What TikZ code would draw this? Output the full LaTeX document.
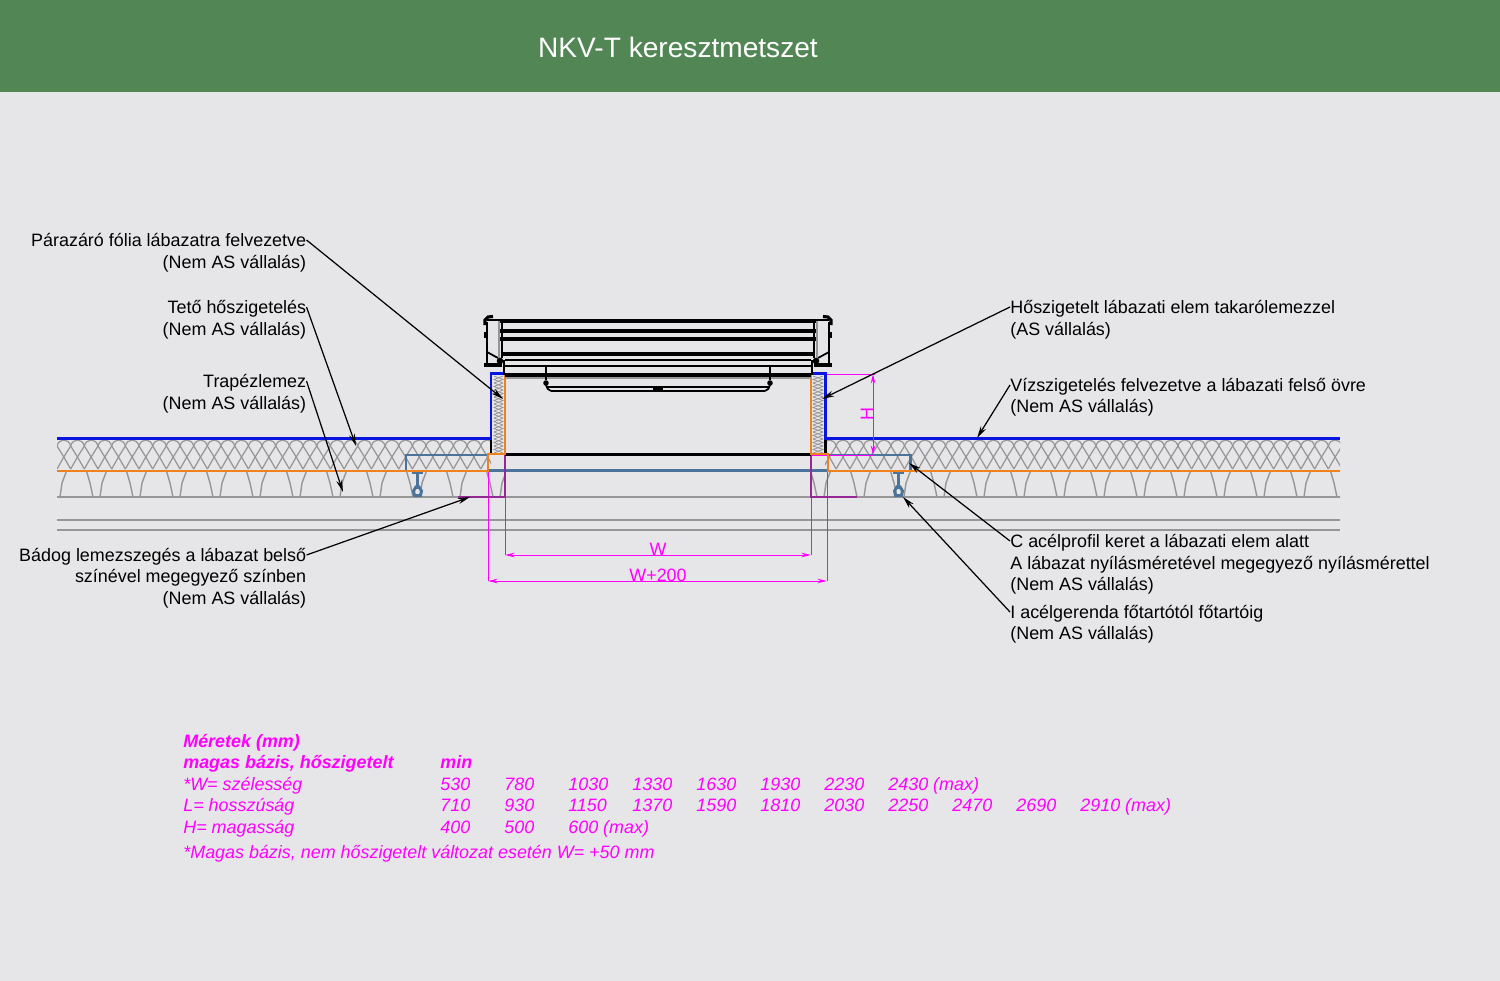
\documentclass[tikz,border=0pt]{standalone}
\usepackage{fontspec}
\setmainfont{Liberation Sans}
\usetikzlibrary{arrows.meta}
\definecolor{headgreen}{RGB}{82,134,84}
\definecolor{paper}{RGB}{230,230,232}
\definecolor{steelblue}{RGB}{75,115,155}
\definecolor{rockgray}{RGB}{150,150,150}
\definecolor{foilorange}{RGB}{240,130,30}
\definecolor{sealblue}{RGB}{10,20,225}
\definecolor{dimpink}{RGB}{255,0,255}
\definecolor{dimpurple}{RGB}{150,40,150}
\tikzset{
  lblr/.style={anchor=east,inner sep=0pt,font=\fontsize{10.2pt}{12pt}\selectfont,text height=8pt,text depth=0.8pt},
  lbll/.style={lblr,anchor=west},
  leader/.style={black,line width=0.7pt,-{Stealth[length=7pt,width=3.4pt]}},
  dimline/.style={dimpink,line width=0.55pt},
  dimarrow/.style={dimline,{Stealth[length=5.5pt,width=2.6pt]}-{Stealth[length=5.5pt,width=2.6pt]}},
  dimtext/.style={inner sep=0pt,text=dimpink,font=\fontsize{10.2pt}{12pt}\selectfont},
  tabtext/.style={anchor=base west,inner sep=0pt,text=dimpink,font=\fontsize{10.2pt}{12pt}\selectfont\itshape},
  tabbold/.style={tabtext,font=\fontsize{10.2pt}{12pt}\selectfont\itshape\bfseries},
  rock/.style={rockgray,line width=0.7pt},
  thickrail/.style={black,line width=1.8pt},
  thinrail/.style={black,line width=1pt},
  beam/.style={steelblue,line width=1.7pt},
}
\begin{document}
\begin{tikzpicture}[x=0.02cm,y=-0.02cm]
  \useasboundingbox (0,0) rectangle (1500,980);
  % background and header
  \fill[paper] (-5,-5) rectangle (1505,985);
  \fill[headgreen] (-5,-5) rectangle (1505,92);
  \node[inner sep=0pt,text=white,font=\fontsize{16pt}{18pt}\selectfont] (title) at (678,47.5) {NKV-T keresztmetszet};

  % roof insulation, left and right of the curb
  \begin{scope}
    \clip (57,438) rectangle (491,471) (825,438) rectangle (1340,471);
    \foreach \i in {0,...,96} {
      \pgfmathsetmacro{\xa}{57+13.67*\i}
      \draw[rock] (\xa,446) -- (\xa+6.8,457) -- (\xa+13.67,469);
      \draw[rock] (\xa+13.67,446) -- (\xa+6.8,457) -- (\xa,469);
      \draw[rock] (\xa,446) .. controls (\xa+2,438) and (\xa+11.67,438) .. (\xa+13.67,446);
    }
  \end{scope}

  % trapezoid sheet
  \def\trapez#1{
    \draw[rock,line width=0.8pt] (#1-6.5,471) -- (#1-3,483) -- (#1,497) -- (#1+7,497) -- (#1+9,483) -- (#1+13.5,471);
  }
  \begin{scope}
    \clip (57,471) rectangle (505,498) (811,471) rectangle (1340,498);
    \foreach \i in {0,...,11} {\trapez{53+40*\i}}
    \foreach \i in {0,...,13} {\trapez{817+40*\i}}
  \end{scope}
  \draw[rockgray,line width=0.8pt] (57,497) -- (1340,497);
  \draw[rockgray,line width=0.8pt] (57,520) -- (1340,520);
  \draw[rockgray,line width=0.8pt] (57,530) -- (1340,530);

  % curb insulation
  \foreach \i in {0,...,10} {
    \pgfmathsetmacro{\ya}{376+7*\i}
    \draw[rockgray,line width=0.45pt] (494,\ya) -- (503,\ya+3.5) -- (494,\ya+7);
    \draw[rockgray,line width=0.45pt] (503,\ya) -- (494,\ya+3.5) -- (503,\ya+7);
    \draw[rockgray,line width=0.45pt] (813,\ya) -- (823,\ya+3.5) -- (813,\ya+7);
    \draw[rockgray,line width=0.45pt] (823,\ya) -- (813,\ya+3.5) -- (823,\ya+7);
  }

  % steel frame and beams
  \draw[beam] (488,455) -- (406,455) -- (406,470.5);
  \draw[beam] (828,455) -- (910,455) -- (910,470.5);
  \draw[beam] (488,470.5) -- (828,470.5);
  \foreach \bx in {417.5,898.5} {
    \draw[beam] (\bx-5.5,473) -- (\bx+5.5,473);
    \draw[beam] (\bx,473) -- (\bx,489);
    \draw[beam] (\bx-1,486) -- (\bx-4,491) -- (\bx-3,495.5) -- (\bx+3,495.5) -- (\bx+4,491) -- (\bx+1,486);
  }

  % magenta dimension construction
  \draw[dimline] (488,471) -- (488,581);
  \draw[dimline] (505,497) -- (505,555);
  \draw[dimline] (811,497) -- (811,555);
  \draw[dimline] (827,471) -- (827,581);
  \draw[dimpurple,line width=0.6pt] (505,455) -- (505,497) -- (458,497);
  \draw[dimpurple,line width=0.6pt] (811,455) -- (811,497) -- (857,497);
  \draw[dimline] (812,374) -- (875,374);
  \draw[dimline] (800,455) -- (873,455);

  % curb
  \draw[black,line width=1.3pt] (491,438) -- (491,455);
  \draw[black,line width=1.3pt] (825.5,438) -- (825.5,455);
  \draw[black,line width=1.7pt] (505,454.5) -- (811,454.5);
  \draw[sealblue,line width=1.2pt] (57,438.5) -- (491,438.5) -- (491,373.5) -- (505,373.5);
  \draw[sealblue,line width=1.2pt] (1340,438.5) -- (825.5,438.5) -- (825.5,373.5) -- (811,373.5);
  \draw[foilorange,line width=1pt] (505,374) -- (505,454) -- (488,454) -- (488,471) -- (57,471);
  \draw[foilorange,line width=1pt] (811,374) -- (811,454) -- (828,454) -- (828,471) -- (1340,471);

  % skylight rails
  \draw[thickrail] (500,321) -- (816,321);
  \draw[thickrail] (500,331) -- (816,331);
  \draw[thickrail] (500,339) -- (816,339);
  \draw[thickrail] (502,354) -- (814,354);
  \draw[thinrail] (505,360) -- (811,360);
  \draw[thinrail] (503,366) -- (813,366);
  \draw[thickrail] (505,375) -- (811,375);
  \draw[rockgray,line width=0.8pt] (505,378) -- (811,378);
  \def\skyend{
    \draw[thinrail] (504,360) -- (504,375);
    \draw[thinrail] (487,322) -- (487,365);
    \draw[thickrail] (484,365) -- (502,365);
    \draw[thinrail] (487,320) -- (500,320);
    \draw[thickrail] (485,325) -- (485,320) -- (488,317) -- (493,316.5);
    \draw[thickrail] (485.5,332) -- (485.5,338);
    \draw[thinrail] (487,352) -- (498,358);
    \draw[rockgray,line width=0.8pt] (499,321) -- (499,358);
    \draw[black,line width=0.9pt] (502,321) -- (502,358);
    \fill[black] (500,361) circle (3.3);
    \draw[thinrail] (546,366) -- (546,380);
    \fill[black] (546,383) circle (2.8);
    \draw[thinrail] (546,385) .. controls (546.5,388) and (548,390) .. (551,391);
  }
  \skyend
  \begin{scope}[shift={(1316,0)},xscale=-1]
    \skyend
  \end{scope}
  \draw[thinrail] (547,387) -- (769,387);
  \draw[thinrail] (551,391) -- (765,391);
  \fill[black] (653,387.5) rectangle (663,391.5);
  \fill[black] (656,385.5) rectangle (660,388);

  % dimensions
  \coordinate (wleft) at (505,555);
  \coordinate (wright) at (811,555);
  \coordinate (wwleft) at (488,581);
  \coordinate (wwright) at (827,581);
  \coordinate (htop) at (873,374);
  \coordinate (hbot) at (873,455);
  \draw[dimarrow] (wleft) -- (wright);
  \draw[dimarrow] (wwleft) -- (wwright);
  \draw[dimarrow] (htop) -- (hbot);
  \node[dimtext] (wlabel) at (658,549.5) {W};
  \node[dimtext] (wwlabel) at (658,575.5) {W+200};
  \node[dimtext,rotate=90] (hlabel) at (867,414) {H};

  % left labels
  \node[lblr] (para) at (306.5,240) {Párazáró fólia lábazatra felvezetve};
  \node[lblr] (parab) at (306.5,262) {(Nem AS vállalás)};
  \node[lblr] (teto) at (306.5,307) {Tető hőszigetelés};
  \node[lblr] (tetob) at (306.5,329) {(Nem AS vállalás)};
  \node[lblr] (trapez) at (306.5,381) {Trapézlemez};
  \node[lblr] (trapezb) at (306.5,403) {(Nem AS vállalás)};
  \node[lblr] (badog) at (306.5,555) {Bádog lemezszegés a lábazat belső};
  \node[lblr] (badogb) at (306.5,576) {színével megegyező színben};
  \node[lblr] (badogc) at (306.5,598) {(Nem AS vállalás)};

  % right labels
  \node[lbll] (elem) at (1010,307) {Hőszigetelt lábazati elem takarólemezzel};
  \node[lbll] (elemb) at (1010,329) {(AS vállalás)};
  \node[lbll] (viz) at (1010,385) {Vízszigetelés felvezetve a lábazati felső övre};
  \node[lbll] (vizb) at (1010,406) {(Nem AS vállalás)};
  \node[lbll] (cprof) at (1010,541) {C acélprofil keret a lábazati elem alatt};
  \node[lbll] (cprofb) at (1010,563) {A lábazat nyílásméretével megegyező nyílásmérettel};
  \node[lbll] (cprofc) at (1010,584) {(Nem AS vállalás)};
  \node[lbll] (ibeam) at (1010,612) {I acélgerenda főtartótól főtartóig};
  \node[lbll] (ibeamb) at (1010,633) {(Nem AS vállalás)};

  % leader ends
  \coordinate (paraend) at (503,399);
  \coordinate (tetoend) at (356,446);
  \coordinate (trapezend) at (343,492);
  \coordinate (badogend) at (470,497);
  \coordinate (elemend) at (822,399);
  \coordinate (vizend) at (977,438);
  \coordinate (cprofend) at (909,463);
  \coordinate (ibeamend) at (903,497);
  \foreach \a/\b in {para/paraend,teto/tetoend,trapez/trapezend,badog/badogend} {
    \draw[leader] (\a.east) -- (\b);
  }
  \foreach \a/\b in {elem/elemend,viz/vizend,cprof/cprofend,ibeam/ibeamend} {
    \draw[leader] (\a.west) -- (\b);
  }

  % size table
  \node[tabbold] (tabhead) at (183,747) {Méretek (mm)};
  \node[tabbold] (tabtype) at (183,768) {magas bázis, hőszigetelt};
  \node[tabbold] (tabmin) at (440,768) {min};
  \node[tabtext] (tabw) at (183,790) {*W= szélesség};
  \node[tabtext] (tabl) at (183,811) {L= hosszúság};
  \node[tabtext] (tabh) at (183,833) {H= magasság};
  \foreach \v [count=\i from 0] in {530,780,1030,1330,1630,1930,2230,2430 (max)} {
    \node[tabtext] (w\i) at (440+64*\i,790) {\v};
  }
  \foreach \v [count=\i from 0] in {710,930,1150,1370,1590,1810,2030,2250,2470,2690,2910 (max)} {
    \node[tabtext] (l\i) at (440+64*\i,811) {\v};
  }
  \foreach \v [count=\i from 0] in {400,500,600 (max)} {
    \node[tabtext] (h\i) at (440+64*\i,833) {\v};
  }
  \node[tabtext] (tabnote) at (183,858) {*Magas bázis, nem hőszigetelt változat esetén W= +50 mm};
\end{tikzpicture}
\end{document}
